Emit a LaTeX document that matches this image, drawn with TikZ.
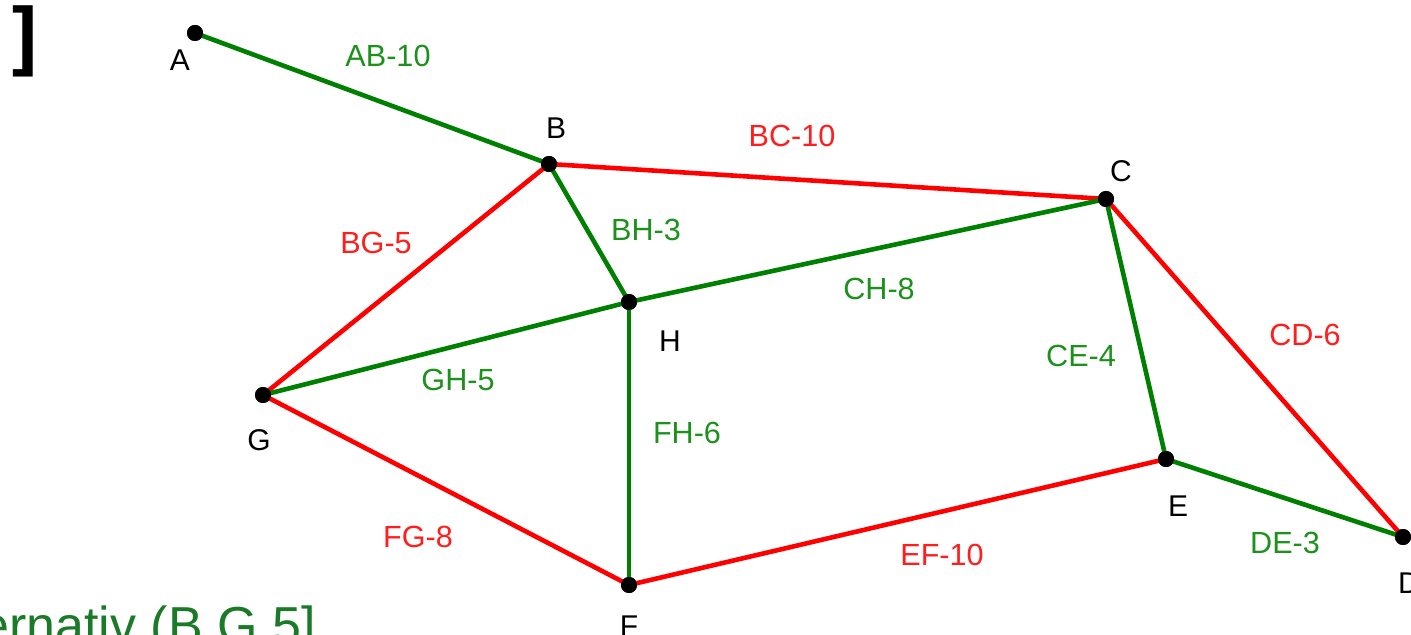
\documentclass[tikz,border=0pt]{standalone}
\usepackage{fontspec}
\setmainfont{Liberation Sans}
\newfontfamily\monofont{DejaVu Sans Mono}
\definecolor{treegreen}{RGB}{0,128,0}
\definecolor{labgreen}{RGB}{28,145,28}
\definecolor{edgered}{RGB}{255,0,0}
\definecolor{labred}{RGB}{255,30,30}
\definecolor{notegreen}{RGB}{26,122,40}
\tikzset{
  vertex/.style={circle,fill=black,inner sep=0pt,minimum size=8pt},
  vname/.style={font=\fontsize{15}{15}\selectfont,text=black,inner sep=0pt},
  tree/.style={draw=treegreen,line width=2.3pt},
  cut/.style={draw=edgered,line width=2.3pt},
  glab/.style={font=\fontsize{15.3}{15.3}\selectfont,text=labgreen,inner sep=0pt},
  rlab/.style={font=\fontsize{15.3}{15.3}\selectfont,text=labred,inner sep=0pt}
}
\begin{document}
\begin{tikzpicture}[x=0.5pt,y=-0.5pt]
\useasboundingbox (0,0) rectangle (1411,635);
\clip (0,0) rectangle (1411,635);
\fill[white] (0,0) rectangle (1411,635);

% vertices
\node[vertex] (A) at (195,33) {};
\node[vertex] (B) at (549,164) {};
\node[vertex] (C) at (1106,199) {};
\node[vertex] (D) at (1403,537) {};
\node[vertex] (E) at (1166,459) {};
\node[vertex] (F) at (629,585) {};
\node[vertex] (G) at (263,395) {};
\node[vertex] (H) at (629,302) {};

% edges (green: spanning tree, red: remaining)
\draw[tree] (A.center) -- (B.center);
\draw[cut]  (B.center) -- (C.center);
\draw[cut]  (B.center) -- (G.center);
\draw[tree] (B.center) -- (H.center);
\draw[tree] (C.center) -- (H.center);
\draw[cut]  (C.center) -- (D.center);
\draw[tree] (C.center) -- (E.center);
\draw[tree] (G.center) -- (H.center);
\draw[tree] (F.center) -- (H.center);
\draw[cut]  (F.center) -- (G.center);
\draw[cut]  (E.center) -- (F.center);
\draw[tree] (D.center) -- (E.center);

% redraw dots on top of the edges
\foreach \v in {A,B,C,D,E,F,G,H} \fill (\v.center) circle (8);

% vertex names
\node[vname] (lA) at (180,60) {A};
\node[vname] (lB) at (556,128) {B};
\node[vname] (lC) at (1121,171) {C};
\node[vname] (lD) at (1409,583) {D};
\node[vname] (lE) at (1178,506) {E};
\node[vname] (lF) at (629,626) {F};
\node[vname] (lG) at (259,440) {G};
\node[vname] (lH) at (670,341) {H};

% edge weights
\node[glab] (wAB) at (388,56) {AB-10};
\node[rlab] (wBC) at (792,136) {BC-10};
\node[rlab] (wBG) at (376,243) {BG-5};
\node[glab] (wBH) at (646,230) {BH-3};
\node[glab] (wCH) at (879,289) {CH-8};
\node[rlab] (wCD) at (1305,335) {CD-6};
\node[glab] (wCE) at (1081,356) {CE-4};
\node[glab] (wGH) at (458,380) {GH-5};
\node[glab] (wFH) at (687,433) {FH-6};
\node[rlab] (wFG) at (418,537) {FG-8};
\node[rlab] (wEF) at (942,555) {EF-10};
\node[glab] (wDE) at (1285,543) {DE-3};

% text fragments at the margins
\node[font=\monofont\bfseries\fontsize{40}{40}\selectfont,inner sep=0pt] (br) at (26,41) {]};
\node[font=\fontsize{26}{26}\selectfont,text=notegreen,inner sep=0pt,anchor=base east] (alt) at (316,643) {Alternativ (B,G,5]};
\end{tikzpicture}
\end{document}
